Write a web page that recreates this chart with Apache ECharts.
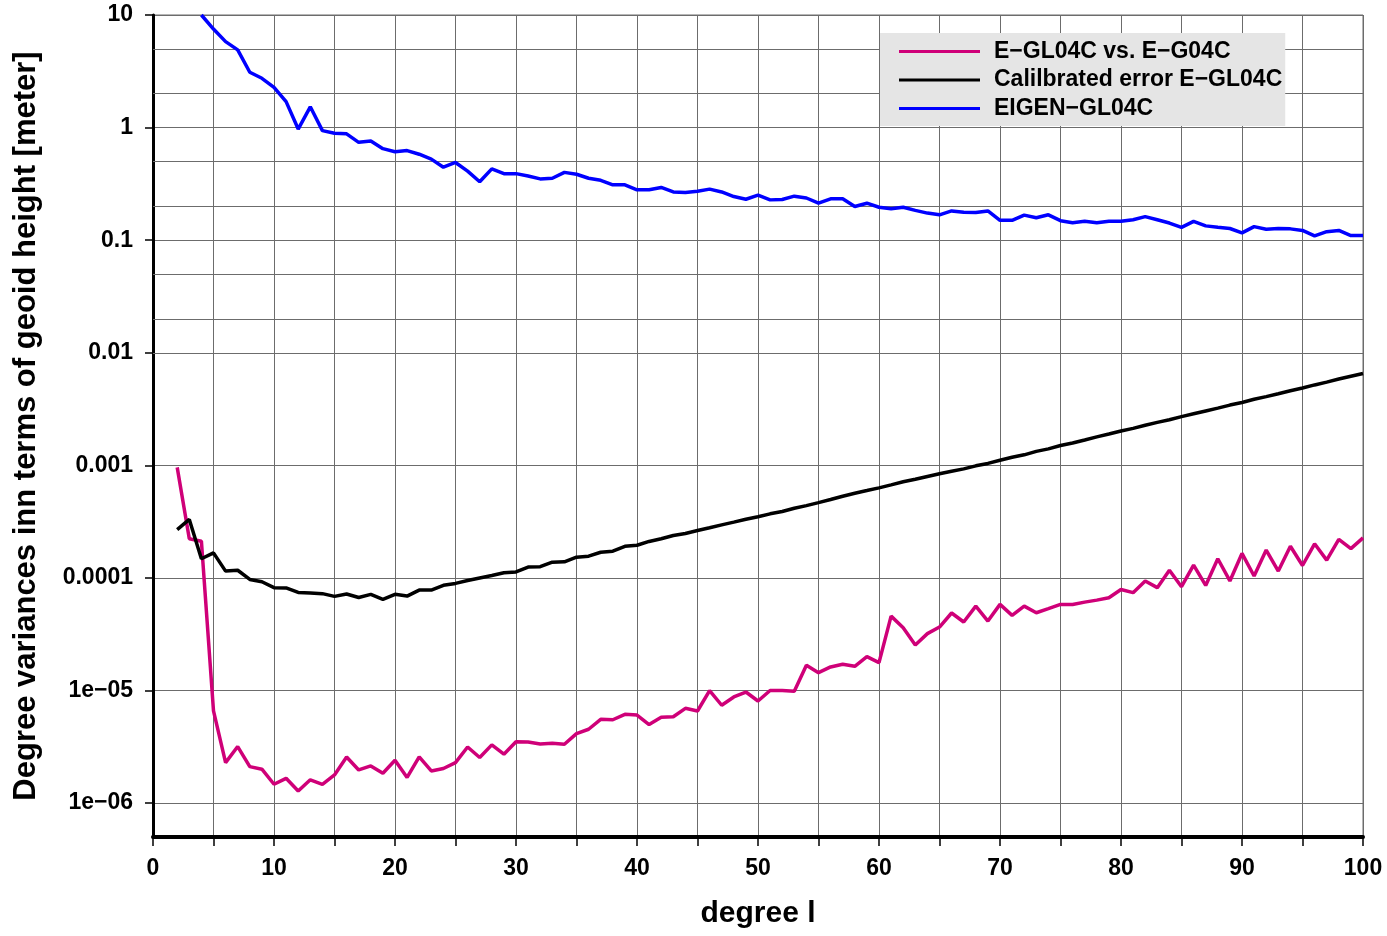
<!DOCTYPE html>
<html style="height: 100%">
<head>
  <meta charset="UTF-8">
  <title>Degree variances</title>
  <script src="https://cdn.jsdelivr.net/npm/echarts@6/dist/echarts.min.js"></script>
</head>
<body style="height: 100%; margin: 0; background: #fff">
<div id="main" style="width: 1387px; height: 936px"></div>

<script>
  // degree l where each series begins (one value per degree after that)
  const diffStart = 2;
  const calibStart = 2;
  const eigenStart = 4;

  // E-GL04C vs. E-G04C
  const diffValues = [
    9.6e-4, 2.23e-4, 2.12e-4, 6.6e-6, 2.29e-6, 3.18e-6, 2.11e-6, 2.0e-6, 1.47e-6, 1.66e-6,
    1.28e-6, 1.61e-6, 1.47e-6, 1.78e-6, 2.57e-6, 1.97e-6, 2.14e-6, 1.84e-6, 2.40e-6, 1.69e-6,
    2.57e-6, 1.93e-6, 2.03e-6, 2.29e-6, 3.15e-6, 2.54e-6, 3.29e-6, 2.72e-6, 3.51e-6, 3.49e-6,
    3.35e-6, 3.40e-6, 3.33e-6, 4.14e-6, 4.53e-6, 5.55e-6, 5.5e-6, 6.15e-6, 6.05e-6, 4.98e-6,
    5.78e-6, 5.85e-6, 6.95e-6, 6.58e-6, 1.0e-5, 7.4e-6, 8.77e-6, 9.7e-6, 8.07e-6, 1.0e-5,
    1.0e-5, 9.85e-6, 1.68e-5, 1.44e-5, 1.62e-5, 1.71e-5, 1.64e-5, 2.0e-5, 1.77e-5, 4.58e-5,
    3.61e-5, 2.54e-5, 3.2e-5, 3.66e-5, 4.88e-5, 4.06e-5, 5.62e-5, 4.14e-5, 5.82e-5, 4.65e-5,
    5.62e-5, 4.91e-5, 5.33e-5, 5.82e-5, 5.8e-5, 6.1e-5, 6.35e-5, 6.67e-5, 7.9e-5, 7.4e-5,
    9.4e-5, 8.2e-5, 1.17e-4, 8.36e-5, 1.30e-4, 8.57e-5, 1.48e-4, 9.4e-5, 1.65e-4, 1.04e-4,
    1.77e-4, 1.15e-4, 1.91e-4, 1.29e-4, 2.01e-4, 1.44e-4, 2.20e-4, 1.82e-4, 2.27e-4
  ];

  // Calilbrated error E-GL04C
  const calibValues = [
    2.69e-4, 3.31e-4, 1.48e-4, 1.67e-4, 1.15e-4, 1.17e-4, 9.7e-5, 9.25e-5, 8.2e-5, 8.15e-5,
    7.43e-5, 7.35e-5, 7.25e-5, 6.86e-5, 7.2e-5, 6.7e-5, 7.15e-5, 6.45e-5, 7.15e-5, 6.9e-5,
    7.8e-5, 7.8e-5, 8.6e-5, 8.94e-5, 9.5e-5, 1.0e-4, 1.05e-4, 1.11e-4, 1.13e-4, 1.25e-4,
    1.26e-4, 1.38e-4, 1.39e-4, 1.53e-4, 1.56e-4, 1.69e-4, 1.73e-4, 1.91e-4, 1.95e-4, 2.11e-4,
    2.23e-4, 2.38e-4, 2.48e-4, 2.64e-4, 2.79e-4, 2.96e-4, 3.13e-4, 3.32e-4, 3.49e-4, 3.71e-4,
    3.89e-4, 4.16e-4, 4.39e-4, 4.67e-4, 4.97e-4, 5.32e-4, 5.65e-4, 5.97e-4, 6.31e-4, 6.71e-4,
    7.14e-4, 7.53e-4, 7.96e-4, 8.41e-4, 8.85e-4, 9.3e-4, 9.9e-4, 1.04e-3, 1.11e-3, 1.18e-3,
    1.24e-3, 1.33e-3, 1.40e-3, 1.50e-3, 1.58e-3, 1.68e-3, 1.79e-3, 1.90e-3, 2.02e-3, 2.13e-3,
    2.27e-3, 2.41e-3, 2.54e-3, 2.71e-3, 2.87e-3, 3.04e-3, 3.22e-3, 3.43e-3, 3.62e-3, 3.86e-3,
    4.08e-3, 4.33e-3, 4.60e-3, 4.87e-3, 5.18e-3, 5.49e-3, 5.84e-3, 6.19e-3, 6.55e-3
  ];

  // EIGEN-GL04C
  const eigenValues = [
    10.0, 7.5, 5.8, 4.9, 3.1, 2.74, 2.28, 1.70, 0.97, 1.53,
    0.94, 0.89, 0.88, 0.74, 0.76, 0.65, 0.61, 0.625, 0.58, 0.525,
    0.445, 0.49, 0.41, 0.33, 0.43, 0.39, 0.39, 0.372, 0.35, 0.355,
    0.40, 0.385, 0.355, 0.34, 0.31, 0.31, 0.28, 0.28, 0.294, 0.268,
    0.265, 0.272, 0.284, 0.268, 0.244, 0.231, 0.251, 0.228, 0.23, 0.246,
    0.237, 0.213, 0.233, 0.233, 0.199, 0.213, 0.196, 0.19, 0.196, 0.184,
    0.174, 0.168, 0.182, 0.177, 0.176, 0.182, 0.150, 0.150, 0.167, 0.158,
    0.168, 0.149, 0.143, 0.147, 0.143, 0.147, 0.147, 0.152, 0.162, 0.152,
    0.142, 0.130, 0.147, 0.134, 0.130, 0.127, 0.116, 0.132, 0.125, 0.127,
    0.126, 0.122, 0.109, 0.119, 0.122, 0.110, 0.110
  ];

  const seriesNames = ['E\u2212GL04C vs. E\u2212G04C', 'Calilbrated error E\u2212GL04C', 'EIGEN\u2212GL04C'];
  const seriesColors = ['#cf0078', '#000000', '#0000ff'];

  // extra horizontal grid lines at 2 and 5 of every decade
  const minorGridValues = [5, 2, 0.5, 0.2, 0.05, 0.02, 0.005, 0.002, 5e-4, 2e-4, 5e-5, 2e-5, 5e-6, 2e-6];

  const font = "'Liberation Sans', Arial, sans-serif";
  const gridColor = '#6c6c6c';

  function toPairs(start, values) {
    return values.map((v, i) => [start + i, v]);
  }

  function yLabel(v) {
    const e = Math.round(Math.log10(v));
    if (e >= 0) return String(Math.pow(10, e));
    if (e >= -4) return '0.' + '0'.repeat(-e - 1) + '1';
    return '1e\u2212' + String(-e).padStart(2, '0');
  }

  const lineSeries = (name, color, data) => ({
    name: name,
    type: 'line',
    data: data,
    showSymbol: false,
    symbol: 'none',
    clip: true,
    lineStyle: { color: color, width: 3.5 },
    itemStyle: { color: color },
    emphasis: { disabled: true }
  });

  const option = {
    animation: false,
    backgroundColor: '#ffffff',
    grid: {
      left: 153,
      right: 24,
      top: 15,
      bottom: 99,
      show: true,
      borderColor: gridColor,
      borderWidth: 1
    },
    legend: {
      orient: 'vertical',
      left: 880,
      top: 33,
      padding: [7, 3, 6, 19],
      itemGap: 5.5,
      itemWidth: 81,
      itemHeight: 3,
      icon: 'rect',
      backgroundColor: '#e5e5e5',
      selectedMode: false,
      textStyle: {
        fontFamily: font,
        fontWeight: 'bold',
        fontSize: 23,
        lineHeight: 22,
        color: '#000',
        padding: [0, 0, 0, 9]
      },
      data: seriesNames
    },
    xAxis: {
      type: 'value',
      min: 0,
      max: 100,
      interval: 5,
      name: 'degree l',
      nameLocation: 'middle',
      nameGap: 62,
      nameTextStyle: { fontFamily: font, fontWeight: 'bold', fontSize: 30, color: '#000' },
      axisLine: { show: true, lineStyle: { color: '#000', width: 4 } },
      axisTick: { show: true, inside: false, length: 9, lineStyle: { color: '#000', width: 1.5 } },
      axisLabel: {
        margin: 20,
        fontFamily: font,
        fontWeight: 'bold',
        fontSize: 23,
        color: '#000',
        formatter: v => (v % 10 === 0 ? String(v) : '')
      },
      splitLine: { show: true, lineStyle: { color: gridColor, width: 1 } }
    },
    yAxis: {
      type: 'log',
      logBase: 10,
      min: 5e-7,
      max: 10,
      splitNumber: 8,
      name: 'Degree variances inn terms of geoid height [meter]',
      nameLocation: 'middle',
      nameRotate: 90,
      nameGap: 111,
      nameTextStyle: { fontFamily: font, fontWeight: 'bold', fontSize: 31, color: '#000' },
      axisLine: { show: true, lineStyle: { color: '#000', width: 3 } },
      axisTick: { show: true, inside: false, length: 8, lineStyle: { color: '#000', width: 1.5 } },
      axisLabel: {
        margin: 20,
        showMinLabel: false,
        fontFamily: font,
        fontWeight: 'bold',
        fontSize: 23,
        color: '#000',
        formatter: yLabel
      },
      splitLine: { show: true, lineStyle: { color: gridColor, width: 1 } }
    },
    series: [
      Object.assign(lineSeries(seriesNames[0], seriesColors[0], toPairs(diffStart, diffValues)), {
        markLine: {
          silent: true,
          z: 1,
          symbol: ['none', 'none'],
          label: { show: false },
          lineStyle: { color: gridColor, width: 1, type: 'solid' },
          emphasis: { disabled: true },
          data: minorGridValues.map(v => ({ yAxis: v }))
        }
      }),
      lineSeries(seriesNames[1], seriesColors[1], toPairs(calibStart, calibValues)),
      lineSeries(seriesNames[2], seriesColors[2], toPairs(eigenStart, eigenValues))
    ]
  };

  const chart = echarts.init(document.getElementById('main'));
  chart.setOption(option);
</script>
</body>
</html>
